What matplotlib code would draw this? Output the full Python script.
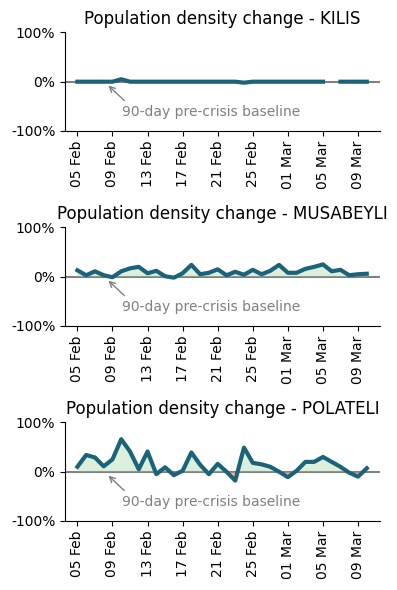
import numpy as np
import pandas as pd
import matplotlib
matplotlib.use("Agg")
import matplotlib.pyplot as plt
import matplotlib.dates as mdates
from matplotlib.ticker import FuncFormatter

dates = pd.date_range("2023-02-05", "2023-03-10", freq="D")

kilis = [0, 0, 0, 0, 0, 0.05, 0, 0, 0, 0, 0, 0, 0, 0, 0, 0, 0, 0, 0, -0.02,
         0, 0, 0, 0, 0, 0, 0, 0, 0, np.nan, 0, 0, 0, 0]
musabeyli = [0.13, 0.03, 0.11, 0.03, -0.01, 0.11, 0.17, 0.20, 0.07, 0.12,
             0.01, -0.02, 0.07, 0.24, 0.05, 0.08, 0.15, 0.03, 0.10, 0.04,
             0.14, 0.05, 0.12, 0.24, 0.08, 0.08, 0.16, 0.20, 0.25, 0.11,
             0.14, 0.03, 0.05, 0.06]
polateli = [0.10, 0.34, 0.29, 0.11, 0.25, 0.66, 0.41, 0.05, 0.41, -0.05,
            0.09, -0.07, 0.02, 0.39, 0.14, -0.05, 0.16, 0.00, -0.18, 0.49,
            0.18, 0.15, 0.10, 0.00, -0.11, 0.02, 0.20, 0.20, 0.30, 0.20,
            0.10, -0.02, -0.10, 0.07]

towns = ["KILIS", "MUSABEYLI", "POLATELI"]
series = [kilis, musabeyli, polateli]

line_color = "#1b6379"

fig, axes = plt.subplots(3, 1, figsize=(3.97, 5.9), dpi=100)
fig.subplots_adjust(left=0.164, right=0.957, top=0.945, bottom=0.117, hspace=0.98)

for ax, town, vals in zip(axes, towns, series):
    y = np.array(vals, dtype=float)
    x = mdates.date2num(dates)
    ax.axhline(0, color="grey", lw=1.5, zorder=1)
    ax.fill_between(x, y, 0, where=y >= 0, interpolate=True,
                    color="#a8d8a8", alpha=0.4, lw=0)
    ax.fill_between(x, y, 0, where=y < 0, interpolate=True,
                    color="#f08060", alpha=0.5, lw=0)
    ax.plot(x, y, color=line_color, lw=3, zorder=3)
    ax.set_ylim(-1, 1)
    ax.set_yticks([-1, 0, 1])
    ax.yaxis.set_major_formatter(FuncFormatter(lambda v, p: f"{v:.0%}"))
    ax.set_xlim(x[0] - 1.4, x[-1] + 1.5)
    ax.xaxis.set_major_locator(mdates.DayLocator(bymonthday=range(1, 32, 4)))
    ax.xaxis.set_major_formatter(mdates.DateFormatter("%d %b"))
    ax.tick_params(axis="x", rotation=90)
    ax.spines["top"].set_visible(False)
    ax.spines["right"].set_visible(False)
    ax.set_title(f"Population density change - {town}", fontsize=12)
    ax.annotate("90-day pre-crisis baseline",
                xy=(x[0] + 3.3, -0.04), xytext=(x[0] + 5.1, -0.62),
                color="grey", fontsize=10, ha="left", va="center",
                arrowprops=dict(arrowstyle="->", color="grey", lw=1,
                                relpos=(0.04, 1), shrinkA=2))

fig.savefig("out.png", dpi=100)
